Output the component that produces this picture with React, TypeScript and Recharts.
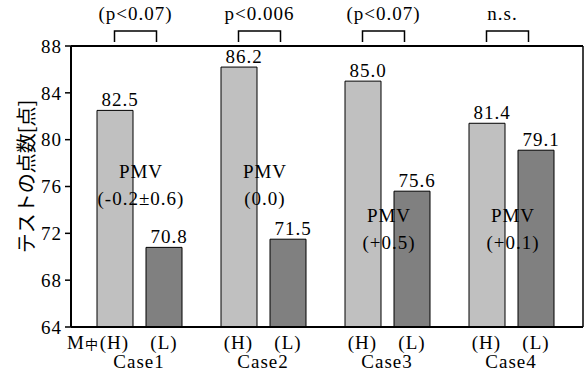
import { Bar, BarChart, LabelList, ReferenceDot, XAxis, YAxis } from "recharts";

const cases = ["Case1", "Case2", "Case3", "Case4"];
const highScores = [82.5, 86.2, 85.0, 81.4];
const lowScores = [70.8, 71.5, 75.6, 79.1];
const pValues = ["(p<0.07)", "p<0.006", "(p<0.07)", "n.s."];
const pmvLabels = ["(-0.2±0.6)", "(0.0)", "(+0.5)", "(+0.1)"];
const yTicks = [64, 68, 72, 76, 80, 84, 88];

const data = cases.map((name, i) => ({
  name,
  high: highScores[i],
  low: lowScores[i],
}));

const serif = "'Liberation Serif', 'Times New Roman', serif";
const fs = 19;
const ls = 1; // reference glyphs are a bit wider than Times
const txt = { fontFamily: serif, fontSize: fs, fill: "#000", letterSpacing: ls };

// bracket + p value above each case
function PTick(props: any) {
  const { x, y, index } = props;
  const left = x - 24.5;
  const right = x + 17.5;
  return (
    <g>
      <path d={`M${left},${y - 2}V${y - 13}H${right}V${y - 2}`} fill="none" stroke="#000" strokeWidth={1.5} />
      <text x={(left + right) / 2 - (index === 3 ? 5 : 0)} y={y - 24} textAnchor="middle" {...txt}>
        {pValues[index]}
      </text>
    </g>
  );
}

function CaseTick(props: any) {
  const { x, y, payload, index } = props;
  return (
    <g>
      {index === 0 && (
        <text x={x - 40} y={y + 20} textAnchor="end" {...txt}>
          M<tspan fontFamily="'Noto Sans CJK JP', sans-serif" fontSize={13}>中</tspan>
        </text>
      )}
      <text x={x - 24.5} y={y + 20} textAnchor="middle" {...txt}>(H)</text>
      <text x={x + 25} y={y + 20} textAnchor="middle" {...txt}>(L)</text>
      <text x={x} y={y + 39} textAnchor="middle" {...txt}>{payload.value}</text>
    </g>
  );
}

function YLabel(props: any) {
  const vb = props.viewBox || { x: 0, y: 46, width: 71, height: 281 };
  const cx = vb.x + 25;
  const cy = vb.y + vb.height / 2 - 10;
  return (
    <text
      x={cx}
      y={cy}
      transform={`rotate(-90, ${cx}, ${cy})`}
      textAnchor="middle"
      dominantBaseline="central"
      fontFamily="'Noto Sans CJK JP', sans-serif"
      fontSize={20}
      fill="#000"
    >
      テストの点数[点]
    </text>
  );
}

function PmvLabel({ viewBox, text }: any) {
  if (!viewBox) return null;
  const cx = viewBox.x + viewBox.width / 2 + 2;
  const cy = viewBox.y + viewBox.height / 2;
  return (
    <g>
      <text x={cx} y={cy - 13} textAnchor="middle" {...txt}>PMV</text>
      <text x={cx} y={cy + 14} textAnchor="middle" {...txt}>{text}</text>
    </g>
  );
}

// value printed a little right of the bar centre, as in the original
function ValueLabel(p: any) {
  return (
    <text x={p.x + p.width / 2 + 5} y={p.y - 4} textAnchor="middle" {...txt}>
      {Number(p.value).toFixed(1)}
    </text>
  );
}

const pmvLevel = [75.6, 75.6, 71.9, 71.9];

export default function App() {
  return (
    <div style={{ position: "absolute", left: 0, top: 0, background: "#fff" }}>
      <BarChart
        width={587}
        height={372}
        data={data}
        margin={{ top: 0, right: 3, bottom: 0, left: 0 }}
        barSize={36}
        barGap={13}
      >
        <XAxis
          xAxisId="top"
          orientation="top"
          dataKey="name"
          height={46}
          padding={{ left: 6, right: 10 }}
          axisLine={{ stroke: "#000", strokeWidth: 2 }}
          tickLine={false}
          tickSize={0}
          interval={0}
          tick={<PTick />}
        />
        <XAxis
          dataKey="name"
          height={45}
          padding={{ left: 6, right: 10 }}
          axisLine={{ stroke: "#000", strokeWidth: 2 }}
          tickLine={false}
          tickSize={0}
          interval={0}
          tick={<CaseTick />}
        />
        <YAxis
          domain={[64, 88]}
          ticks={yTicks}
          width={71}
          allowDataOverflow
          axisLine={{ stroke: "#000", strokeWidth: 2 }}
          tickLine={{ stroke: "#000", strokeWidth: 1.5 }}
          tickSize={6}
          tickMargin={3}
          tick={txt}
          label={<YLabel />}
        />
        <YAxis
          yAxisId="r"
          orientation="right"
          domain={[64, 88]}
          width={1}
          tick={false}
          tickLine={false}
          axisLine={{ stroke: "#000", strokeWidth: 1.5 }}
        />
        <Bar dataKey="high" fill="#c0c0c0" stroke="#000" strokeWidth={1} isAnimationActive={false}>
          <LabelList dataKey="high" content={<ValueLabel />} />
        </Bar>
        <Bar dataKey="low" fill="#808080" stroke="#000" strokeWidth={1} isAnimationActive={false}>
          <LabelList dataKey="low" content={<ValueLabel />} />
        </Bar>
        {cases.map((c, i) => (
          <ReferenceDot
            key={c}
            x={c}
            y={pmvLevel[i]}
            r={0}
            fill="none"
            stroke="none"
            label={<PmvLabel text={pmvLabels[i]} />}
          />
        ))}
      </BarChart>
    </div>
  );
}
